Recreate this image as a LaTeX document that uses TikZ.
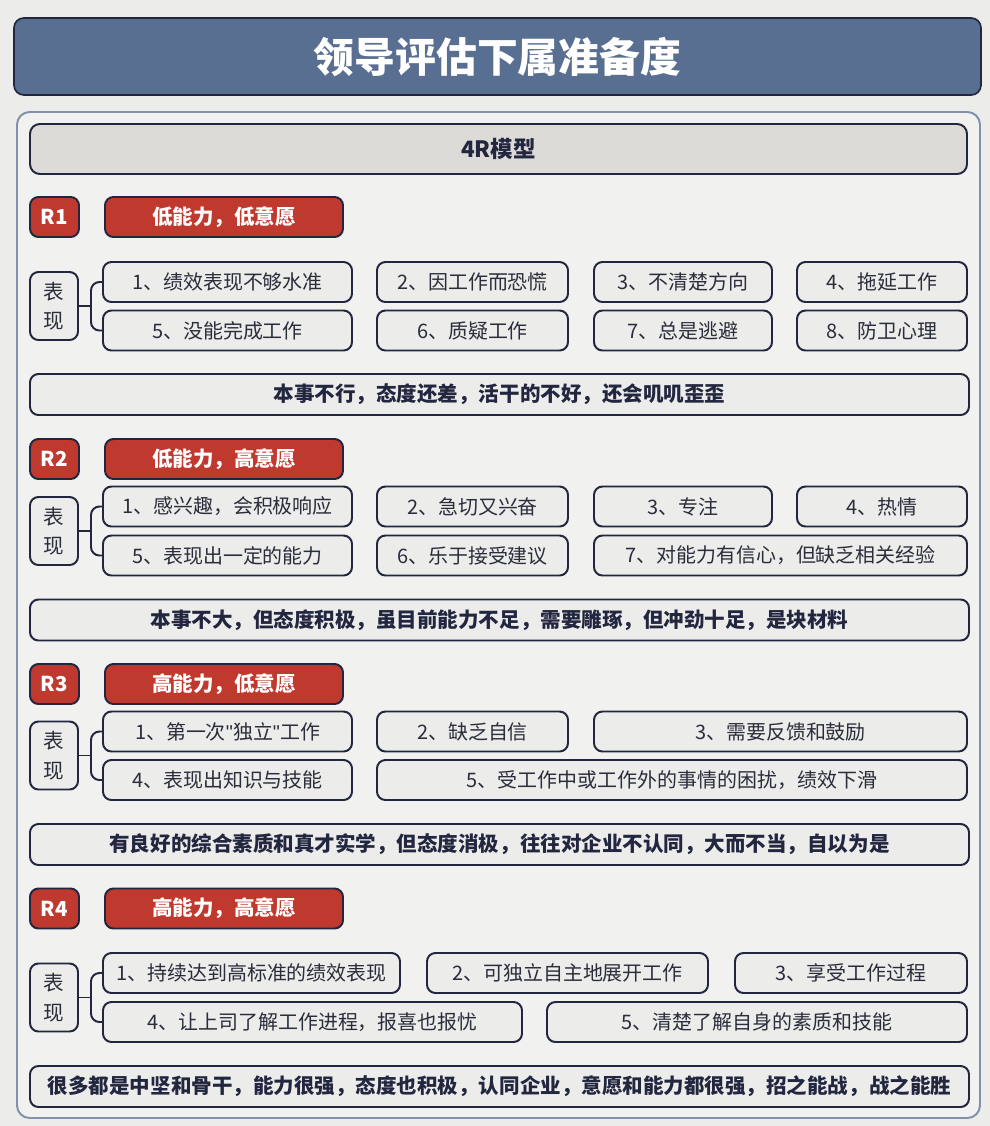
\documentclass[tikz,border=0pt]{standalone}
\usepackage{fontspec}
\setmainfont{Noto Sans CJK SC}
\newfontfamily\latinfont{Liberation Sans}
\usepackage{tikz}
\usetikzlibrary{positioning}

\newdimen\upx \upx=0.025cm
\definecolor{paper}{HTML}{ECECEB}
\definecolor{panelbg}{HTML}{F1F1F0}
\definecolor{panelline}{HTML}{8191AB}
\definecolor{navy}{HTML}{22263F}
\definecolor{titleblue}{HTML}{586F91}
\definecolor{tagred}{HTML}{BF392E}
\definecolor{barfill}{HTML}{DDDBD8}
\definecolor{inktext}{HTML}{2A2D3A}

\begin{document}
\begin{tikzpicture}[
  x=0.025cm, y=-0.025cm,
  item/.style={draw=navy,line width=1.4pt,rounded corners=6pt,fill=paper,
               inner sep=0pt,minimum height=40\upx,text=inktext,
               font=\fontsize{14.2}{16}\selectfont},
  summary/.style={item,minimum width=939\upx,minimum height=41\upx,
                  text=navy,font=\fontsize{14.6}{16}\selectfont\bfseries},
  tag/.style={draw=navy,line width=1.4pt,rounded corners=6pt,fill=tagred,
              inner sep=0pt,minimum height=40\upx,text=white,
              font=\fontsize{14.6}{16}\selectfont\bfseries},
  showbox/.style={item,minimum width=48\upx,minimum height=68\upx,align=center,
                  font=\fontsize{14.6}{21}\selectfont},
  link/.style={draw=navy,line width=1.4pt,rounded corners=6pt}
]
\fill[paper] (0,0) rectangle (990,1126);
\useasboundingbox (0,0) rectangle (990,1126);

% header
\node[draw=navy,line width=1.2pt,rounded corners=7pt,fill=titleblue,
      minimum width=967\upx,minimum height=77\upx,text=white,
      font=\fontsize{29}{32}\selectfont\bfseries] (title) at (497.5,56.5) {领导评估下属准备度};
\node[draw=panelline,line width=1.4pt,rounded corners=9pt,fill=panelbg,
      minimum width=963\upx,minimum height=1006\upx] (panel) at (498.5,615) {};
\node[draw=navy,line width=1.4pt,rounded corners=7pt,fill=barfill,
      minimum width=937\upx,minimum height=50\upx,text=navy,
      font=\fontsize{16}{18}\selectfont\bfseries] (model) at (498.5,149) {4R模型};

% R1
\node[tag,minimum width=49\upx] (r1) at (54.5,217) {R1};
\node[tag,minimum width=238\upx] (r1lab) at (224,217) {低能力，低意愿};
\node[showbox] (r1show) at (54,306) {表\\现};
\node[item,minimum width=249\upx] (r1a) at (227.5,282) {1、绩效表现不够水准};
\node[item,minimum width=191\upx] (r1b) at (472.5,282) {2、因工作而恐慌};
\node[item,minimum width=178\upx] (r1c) at (683,282) {3、不清楚方向};
\node[item,minimum width=170\upx] (r1d) at (882,282) {4、拖延工作};
\node[item,minimum width=249\upx] (r1e) at (227.5,330.5) {5、没能完成工作};
\node[item,minimum width=191\upx] (r1f) at (472.5,330.5) {6、质疑工作};
\node[item,minimum width=178\upx] (r1g) at (683,330.5) {7、总是逃避};
\node[item,minimum width=170\upx] (r1h) at (882,330.5) {8、防卫心理};
\node[summary] (r1sum) at (499.5,394.5) {本事不行，态度还差，活干的不好，还会叽叽歪歪};
\coordinate (r1j) at (91,306);
\draw[link] (r1show.east) -- (r1j);
\draw[link] (r1a.west) -| (r1j) |- (r1e.west);

% R2
\node[tag,minimum width=49\upx] (r2) at (54.5,459) {R2};
\node[tag,minimum width=238\upx] (r2lab) at (224,459) {低能力，高意愿};
\node[showbox] (r2show) at (54,531) {表\\现};
\node[item,minimum width=249\upx] (r2a) at (227.5,506.5) {1、感兴趣，会积极响应};
\node[item,minimum width=191\upx] (r2b) at (472.5,506.5) {2、急切又兴奋};
\node[item,minimum width=178\upx] (r2c) at (683,506.5) {3、专注};
\node[item,minimum width=170\upx] (r2d) at (882,506.5) {4、热情};
\node[item,minimum width=249\upx] (r2e) at (227.5,555.5) {5、表现出一定的能力};
\node[item,minimum width=191\upx] (r2f) at (472.5,555.5) {6、乐于接受建议};
\node[item,minimum width=373\upx] (r2g) at (780.5,555.5) {7、对能力有信心，但缺乏相关经验};
\node[summary] (r2sum) at (499.5,620) {本事不大，但态度积极，虽目前能力不足，需要雕琢，但冲劲十足，是块材料};
\coordinate (r2j) at (91,531);
\draw[link] (r2show.east) -- (r2j);
\draw[link] (r2a.west) -| (r2j) |- (r2e.west);

% R3
\node[tag,minimum width=49\upx] (r3) at (54.5,684) {R3};
\node[tag,minimum width=238\upx] (r3lab) at (224,684) {高能力，低意愿};
\node[showbox] (r3show) at (54,755.5) {表\\现};
\node[item,minimum width=249\upx] (r3a) at (227.5,731.5) {1、第一次{\latinfont"}独立{\latinfont"}工作};
\node[item,minimum width=191\upx] (r3b) at (472.5,731.5) {2、缺乏自信};
\node[item,minimum width=373\upx] (r3c) at (780.5,731.5) {3、需要反馈和鼓励};
\node[item,minimum width=249\upx] (r3d) at (227.5,780) {4、表现出知识与技能};
\node[item,minimum width=590\upx] (r3e) at (672,780) {5、受工作中或工作外的事情的困扰，绩效下滑};
\node[summary] (r3sum) at (499.5,844.5) {有良好的综合素质和真才实学，但态度消极，往往对企业不认同，大而不当，自以为是};
\coordinate (r3j) at (91,755.5);
\draw[link] (r3show.east) -- (r3j);
\draw[link] (r3a.west) -| (r3j) |- (r3d.west);

% R4
\node[tag,minimum width=49\upx] (r4) at (54.5,908.5) {R4};
\node[tag,minimum width=238\upx] (r4lab) at (224,908.5) {高能力，高意愿};
\node[showbox] (r4show) at (54,997.5) {表\\现};
\node[item,minimum width=297\upx] (r4a) at (251.5,973) {1、持续达到高标准的绩效表现};
\node[item,minimum width=281\upx] (r4b) at (567.5,973) {2、可独立自主地展开工作};
\node[item,minimum width=232\upx] (r4c) at (851,973) {3、享受工作过程};
\node[item,minimum width=419\upx] (r4d) at (312.5,1022) {4、让上司了解工作进程，报喜也报忧};
\node[item,minimum width=420\upx] (r4e) at (757,1022) {5、清楚了解自身的素质和技能};
\node[summary] (r4sum) at (499.5,1086.5) {很多都是中坚和骨干，能力很强，态度也积极，认同企业，意愿和能力都很强，招之能战，战之能胜};
\coordinate (r4j) at (91,997.5);
\draw[link] (r4show.east) -- (r4j);
\draw[link] (r4a.west) -| (r4j) |- (r4d.west);
\end{tikzpicture}
\end{document}
